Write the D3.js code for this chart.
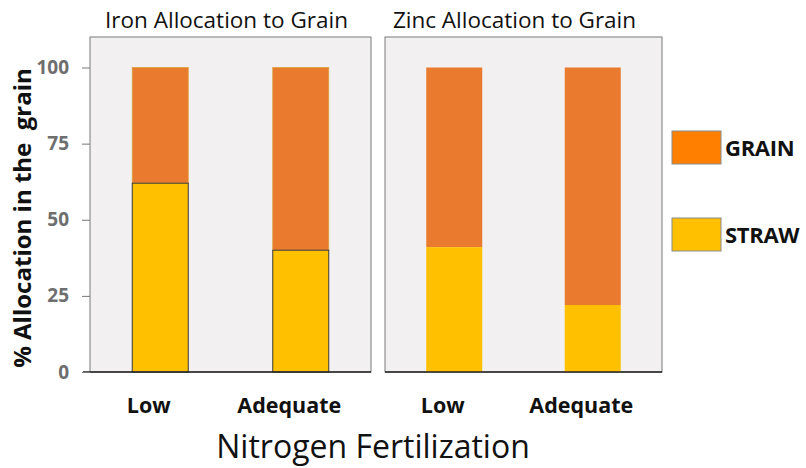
<!DOCTYPE html>
<html>
<head>
<meta charset="utf-8">
<script src="https://cdn.jsdelivr.net/npm/d3@7"></script>
<style>
  body { margin: 0; background: #fff; }
  svg { display: block; font-family: 'Open Sans', sans-serif; }
</style>
</head>
<body>
<div id="chart"></div>
<script>
// data
const levels = ['Low', 'Adequate'];
const panelTitles = ['Iron Allocation to Grain', 'Zinc Allocation to Grain'];
const strawIron = [62, 40];
const strawZinc = [41, 22];
const yTicks = [0, 25, 50, 75, 100];
const legendLabels = ['GRAIN', 'STRAW'];

const width = 806, height = 468;
const orange = '#E97A2E', yellow = '#FFC000', panelBg = '#F2F0F0';
const font = "'Open Sans', sans-serif";

const svg = d3.select('#chart').append('svg')
  .attr('width', width).attr('height', height);

const yScale = d3.scaleLinear().domain([0, 100]).range([372, 67.5]);

const panels = [
  { title: panelTitles[0], straw: strawIron, x0: 90, x1: 371, outline: true },
  { title: panelTitles[1], straw: strawZinc, x0: 385, x1: 662, outline: false },
];

panels.forEach((p, i) => {
  const g = svg.append('g');
  const x = d3.scalePoint().domain(levels).range([p.x0, p.x1]).padding(0.5);
  const bw = 56;

  g.append('rect')
    .attr('x', p.x0).attr('y', 37)
    .attr('width', p.x1 - p.x0).attr('height', yScale(0) - 37)
    .attr('fill', panelBg).attr('stroke', '#7a7a7a').attr('stroke-width', 1);

  // grain = remainder up to 100
  g.selectAll('rect.grain')
    .data(levels.map((l, j) => ({ l, straw: p.straw[j] })))
    .join('rect')
    .attr('class', 'grain')
    .attr('x', d => x(d.l) - bw / 2)
    .attr('y', yScale(100))
    .attr('width', bw)
    .attr('height', d => yScale(d.straw) - yScale(100))
    .attr('fill', orange)
    .attr('stroke', p.outline ? '#D9A23A' : 'none')
    .attr('stroke-width', 0.8);

  g.selectAll('rect.straw')
    .data(levels.map((l, j) => ({ l, straw: p.straw[j] })))
    .join('rect')
    .attr('class', 'straw')
    .attr('x', d => x(d.l) - bw / 2)
    .attr('y', d => yScale(d.straw))
    .attr('width', bw)
    .attr('height', d => yScale(0) - yScale(d.straw))
    .attr('fill', yellow)
    .attr('stroke', p.outline ? '#3a3a3a' : 'none')
    .attr('stroke-width', 1);

  // bottom axis line + labels
  const xAxis = g.append('g')
    .attr('transform', `translate(0,${yScale(0)})`)
    .call(d3.axisBottom(x).tickSize(0).tickPadding(26));
  xAxis.select('.domain')
    .attr('d', `M${i === 0 ? 83 : p.x0},0H${p.x1}`)
    .attr('stroke', '#222').attr('stroke-width', 1.3);
  xAxis.selectAll('text')
    .attr('dx', -12)
    .attr('font-family', font)
    .attr('font-size', 21.5).attr('font-weight', 'bold').attr('fill', '#111');

  g.append('text')
    .attr('x', (p.x0 + p.x1) / 2 + (i === 0 ? -4 : -9))
    .attr('y', 28)
    .attr('text-anchor', 'middle')
    .attr('font-size', 22.5)
    .attr('fill', '#111')
    .text(p.title);
});

// y axis
const yAxis = svg.append('g')
  .attr('transform', 'translate(90,0)')
  .call(d3.axisLeft(yScale).tickValues(yTicks).tickSize(8).tickPadding(13));
yAxis.select('.domain').remove();
yAxis.selectAll('line').attr('stroke', '#777');
yAxis.selectAll('text')
  .attr('font-family', font)
  .attr('font-size', 19).attr('font-weight', 'bold').attr('fill', '#6e6e6e');

svg.append('text')
  .attr('transform', 'translate(31,218) rotate(-90)')
  .attr('text-anchor', 'middle')
  .attr('font-size', 24).attr('font-weight', 'bold').attr('fill', '#111')
  .attr('xml:space', 'preserve')
  .text('% Allocation in the  grain');

svg.append('text')
  .attr('x', 373).attr('y', 458)
  .attr('text-anchor', 'middle')
  .attr('font-size', 32).attr('fill', '#111')
  .text('Nitrogen Fertilization');

// legend
const legendColors = ['#FF8000', yellow];
const legendY = [131, 218];
const lg = svg.append('g');
legendLabels.forEach((lab, k) => {
  lg.append('rect')
    .attr('x', 672).attr('y', legendY[k])
    .attr('width', 49).attr('height', 33)
    .attr('fill', legendColors[k]).attr('stroke', '#8a8a8a').attr('stroke-width', 1);
  lg.append('text')
    .attr('x', 725).attr('y', legendY[k] + 25)
    .attr('font-size', 22).attr('font-weight', 'bold').attr('fill', '#111')
    .attr('letter-spacing', -0.3)
    .text(lab);
});
</script>
</body>
</html>
